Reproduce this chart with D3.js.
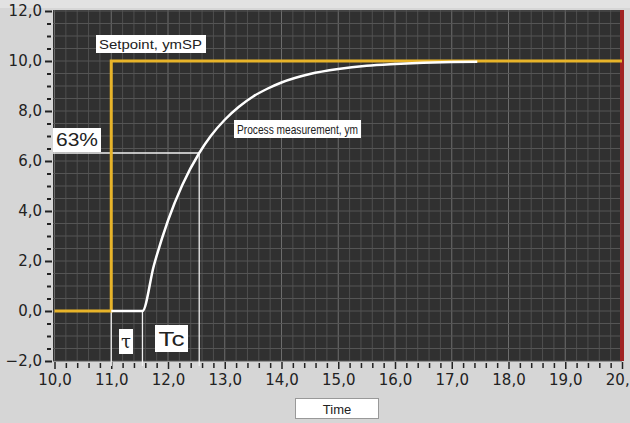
<!DOCTYPE html>
<html><head><meta charset="utf-8">
<script src="https://cdn.jsdelivr.net/npm/d3@7"></script>
<style>body{margin:0;background:#d6d6d6}</style>
</head><body><svg id="c" width="630" height="423"></svg>
<script>
// Data
const setpointT = [10, 11, 11, 20];
const setpointY = [0, 0, 10, 10];
const measT = [11, 11.55, 11.75, 12.0, 12.25, 12.55, 12.75, 13.0, 13.25, 13.5, 13.75, 14.0, 14.5, 15.0, 15.5, 16.0, 16.5, 17.0, 17.45];
const measY = [0, 0, 1.81, 3.62, 5.03, 6.32, 6.99, 7.65, 8.17, 8.58, 8.89, 9.14, 9.48, 9.68, 9.81, 9.88, 9.93, 9.96, 9.97];
const xTicks = [10, 11, 12, 13, 14, 15, 16, 17, 18, 19, 20];
const yTicks = [-2, 0, 2, 4, 6, 8, 10, 12];
const deadTimeEnd = 11.55, stepTime = 11, t63 = 12.55, y63 = 6.32;

const FONT = "'DejaVu Sans',Verdana,sans-serif";
const LFONT = "'Liberation Sans',Arial,sans-serif";
const svg = d3.select("#c");
const L = 53, R = 622, T = 11, B = 361;
const x = d3.scaleLinear().domain([10, 20]).range([54.5, R]);
const y = d3.scaleLinear().domain([-2, 12]).range([B, T]);
const fmt = v => d3.format(".1f")(v).replace(".", ",");

svg.append("rect").attr("width", 630).attr("height", 423).attr("fill", "#d6d6d6");
svg.append("rect").attr("x", 0).attr("y", 0).attr("width", 630).attr("height", 8).attr("fill", "#e2e2e2");
svg.append("rect").attr("x", L).attr("y", T - 1).attr("width", R - L).attr("height", B - T + 1).attr("fill", "#303030");

// grid
const g = svg.append("g");
g.selectAll(".vx").data(d3.range(0, 51).map(i => 10 + i * 0.2)).join("line")
  .attr("x1", d => x(d)).attr("x2", d => x(d)).attr("y1", T - 1).attr("y2", B)
  .attr("stroke", (d, i) => i % 5 === 0 ? "#6c6c6c" : "#4f4f4f").attr("stroke-width", 1);
g.selectAll(".hy").data(d3.range(0, 29).map(i => -2 + i * 0.5)).join("line")
  .attr("x1", L).attr("x2", R).attr("y1", d => y(d)).attr("y2", d => y(d))
  .attr("stroke", "#555").attr("stroke-width", 1);

// axes
const yAxis = d3.axisLeft(y).tickValues(yTicks).tickFormat(fmt).tickSize(7).tickPadding(3);
const ya = svg.append("g").attr("transform", `translate(${L - 1},0)`).call(yAxis);
ya.select(".domain").remove();
ya.selectAll("text").attr("font-size", 15).attr("fill", "#222").attr("font-family", FONT);
ya.selectAll("line").attr("stroke", "#222").attr("stroke-width", 2);
const yMinor = d3.axisLeft(y).tickValues(d3.range(-2, 12.01, 0.5).filter(v => v % 2 !== 0)).tickFormat("").tickSize(4);
const ym = svg.append("g").attr("transform", `translate(${L - 2},0)`).call(yMinor);
ym.select(".domain").remove(); ym.selectAll("line").attr("stroke", "#222").attr("stroke-width", 2);

const xAxis = d3.axisBottom(x).tickValues(xTicks).tickFormat(fmt).tickSize(7).tickPadding(5);
const xa = svg.append("g").attr("transform", `translate(0,${B + 1})`).call(xAxis);
xa.select(".domain").remove();
xa.selectAll("text").attr("font-size", 15).attr("fill", "#222").attr("font-family", FONT);
xa.selectAll("line").attr("stroke", "#222").attr("stroke-width", 1.5);
const xMinor = d3.axisBottom(x).tickValues(d3.range(0, 51).map(i => 10 + i * 0.2).filter((v, i) => i % 5 !== 0)).tickFormat("").tickSize(5);
const xm = svg.append("g").attr("transform", `translate(0,${B + 2})`).call(xMinor);
xm.select(".domain").remove(); xm.selectAll("line").attr("stroke", "#222").attr("stroke-width", 1.5);

// red right border
svg.append("line").attr("x1", x(20)).attr("x2", x(20)).attr("y1", T - 1).attr("y2", B)
  .attr("stroke", "#a02222").attr("stroke-width", 4);

// marker lines
const mk = svg.append("g").attr("stroke", "#f0f0f0").attr("stroke-width", 1.3);
mk.append("line").attr("x1", L).attr("x2", x(t63)).attr("y1", y(y63)).attr("y2", y(y63));
mk.append("line").attr("x1", x(t63)).attr("x2", x(t63)).attr("y1", y(y63)).attr("y2", B + 5);
mk.append("line").attr("x1", x(stepTime)).attr("x2", x(stepTime)).attr("y1", y(0)).attr("y2", B + 5);
mk.append("line").attr("x1", x(deadTimeEnd)).attr("x2", x(deadTimeEnd)).attr("y1", y(0)).attr("y2", B + 5);

// setpoint
const line = d3.line().x(d => x(d[0])).y(d => y(d[1]));
svg.append("path").datum(d3.zip(setpointT, setpointY)).attr("d", line)
  .attr("fill", "none").attr("stroke", "#e8b42a").attr("stroke-width", 3);
// measurement
const mline = d3.line().x(d => x(d[0])).y(d => y(d[1])).curve(d3.curveMonotoneX);
svg.append("path").datum(d3.zip(measT, measY)).attr("d", mline)
  .attr("fill", "none").attr("stroke", "#ffffff").attr("stroke-width", 2.5);

// labels
function label(text, lx, ly, w, h, fs, tx, tl, font) {
  svg.append("rect").attr("x", lx).attr("y", ly).attr("width", w).attr("height", h).attr("fill", "#fff");
  const t = svg.append("text").attr("x", lx + (tx ?? w / 2)).attr("y", ly + h / 2).attr("dy", "0.36em")
    .attr("text-anchor", tx == null ? "middle" : "start").attr("font-size", fs).attr("fill", "#222")
    .attr("font-family", font || FONT).text(text);
  if (tl) t.attr("textLength", tl).attr("lengthAdjust", "spacingAndGlyphs");
}
label("Setpoint, ymSP", 96, 35, 110, 18, 13, 3, 103, LFONT);
label("Process measurement, ym", 234, 120, 127, 18, 13, 3, 121, LFONT);
label("63%", 53, 128, 48, 24, 18, 3, 42, LFONT);
label("τ", 119, 329, 14, 25, 18, null, null, "'DejaVu Serif',serif");
label("Tc", 155, 325, 33, 27, 21, null, 26, LFONT);

// Time button
svg.append("rect").attr("x", 295.5).attr("y", 398.5).attr("width", 83).attr("height", 20).attr("fill", "#fff")
  .attr("stroke", "#999");
svg.append("text").attr("x", 337).attr("y", 409).attr("dy", "0.36em").attr("text-anchor", "middle")
  .attr("font-size", 13).attr("fill", "#222").attr("font-family", LFONT).text("Time");
</script></body></html>
